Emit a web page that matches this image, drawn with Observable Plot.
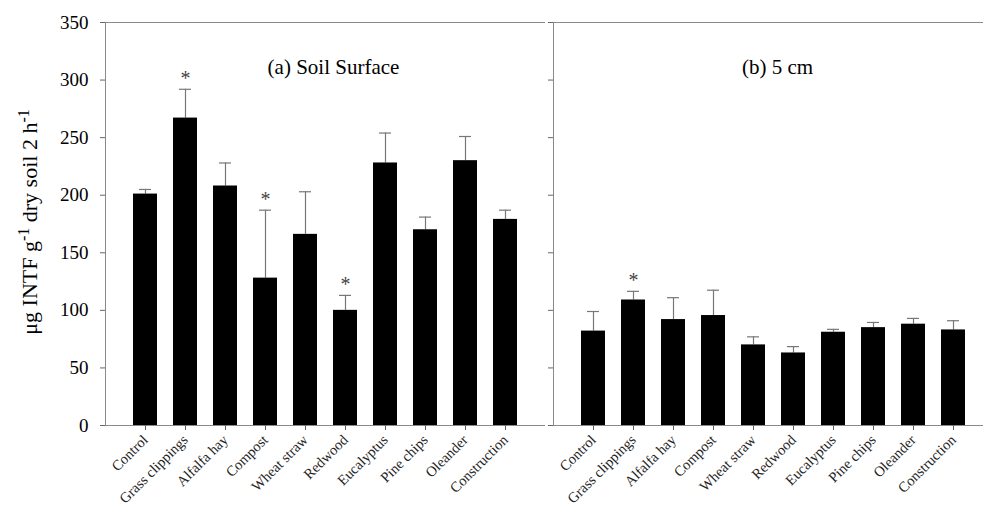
<!DOCTYPE html>
<html><head><meta charset="utf-8">
<script src="https://cdn.jsdelivr.net/npm/d3@7"></script>
<script src="https://cdn.jsdelivr.net/npm/@observablehq/plot@0.6"></script>
<style>
html,body{margin:0;padding:0;background:#fff;overflow:hidden;}
#wrap{position:relative;width:983px;height:506px;overflow:hidden;background:#fff;}
#left{position:absolute;left:0;top:0;width:545px;height:506px;}
#right{position:absolute;left:547px;top:0;width:446px;height:506px;}
svg{background:transparent !important;max-width:none !important;}
svg text{font-family:"Liberation Serif", "Times New Roman", serif !important;}
</style></head><body>
<div id="wrap"><div id="left"></div><div id="right"></div></div>
<script>
const categories = ["Control", "Grass clippings", "Alfalfa hay", "Compost", "Wheat straw", "Redwood", "Eucalyptus", "Pine chips", "Oleander", "Construction"];
const surfaceMeans = [201, 267, 208, 128, 166, 100, 228, 170, 230, 179];
const surfaceErrors = [4, 25, 20, 59, 37, 13, 26, 11, 21, 8];
const surfaceSignificant = [false, true, false, true, false, true, false, false, false, false];
const depthMeans = [82, 109, 92, 95.5, 70, 63, 81, 85, 88, 83];
const depthErrors = [17, 7.5, 19, 22, 7, 5.5, 2.5, 4.5, 5, 8];
const depthSignificant = [false, true, false, false, false, false, false, false, false, false];
const yTicks = [0, 50, 100, 150, 200, 250, 300, 350];
const panelTitles = ["(a) Soil Surface", "(b) 5 cm"];

const serif = "Liberation Serif";

function rows(means, errors, sig) {
  return categories.map((c, i) => ({category: c, mean: means[i], err: errors[i], sig: sig[i]}));
}

function panel({data, title, width, marginLeft, labels, titleDx}) {
  return Plot.plot({
    width, height: 506,
    marginTop: 22, marginBottom: 81, marginLeft, marginRight: 0,
    style: {fontFamily: serif, fontSize: "15px", color: "#000", background: "transparent"},
    x: {domain: categories, paddingInner: 0.4, paddingOuter: 0.7, label: null},
    y: {domain: [0, 350], label: null},
    marks: [
      Plot.frame({stroke: "#8a8a8a"}),
      Plot.axisY({ticks: yTicks, tickSize: 5, tickPadding: 12, fontSize: 19, fontFamily: serif, label: null, stroke: "#666", fill: "#000",
        tickFormat: labels ? (d => String(d)) : (() => "")}),
      Plot.axisX({tickRotate: -45, tickSize: 5, tickPadding: 7, fontSize: 14.5, fontFamily: serif, label: null, stroke: "#666", fill: "#222"}),
      Plot.ruleX(data, {x: "category", y1: "mean", y2: d => d.mean + d.err, stroke: "#777", strokeWidth: 1.2}),
      Plot.tickY(data, {x: "category", y: d => d.mean + d.err, stroke: "#777", strokeWidth: 1.2, insetLeft: 6, insetRight: 6}),
      Plot.barY(data, {x: "category", y: "mean", fill: "#000"}),
      Plot.text(data.filter(d => d.sig), {x: "category", y: d => d.mean + d.err, text: () => "*", dy: -11, fontSize: 20, fontFamily: serif, fill: "#444"}),
      Plot.text([title], {frameAnchor: "top", dy: 37, dx: titleDx, fontSize: 21, fontFamily: serif, fill: "#000"})
    ]
  });
}

const left = panel({data: rows(surfaceMeans, surfaceErrors, surfaceSignificant), title: panelTitles[0], width: 545, marginLeft: 105, labels: true, titleDx: 8});
const right = panel({data: rows(depthMeans, depthErrors, depthSignificant), title: panelTitles[1], width: 446, marginLeft: 6, labels: false, titleDx: 4});
document.getElementById("left").appendChild(left);
document.getElementById("right").appendChild(right);

const ylab = d3.select(left).append("text")
  .attr("transform", "translate(37,222) rotate(-90)")
  .attr("text-anchor", "middle")
  .attr("font-family", serif)
  .attr("font-size", 22)
  .attr("fill", "#000");
ylab.append("tspan").text("\u03bcg INTF g");
ylab.append("tspan").attr("baseline-shift", "super").attr("font-size", 16).text("-1");
ylab.append("tspan").text(" dry soil 2 h");
ylab.append("tspan").attr("baseline-shift", "super").attr("font-size", 16).text("-1");
</script>
</body></html>
